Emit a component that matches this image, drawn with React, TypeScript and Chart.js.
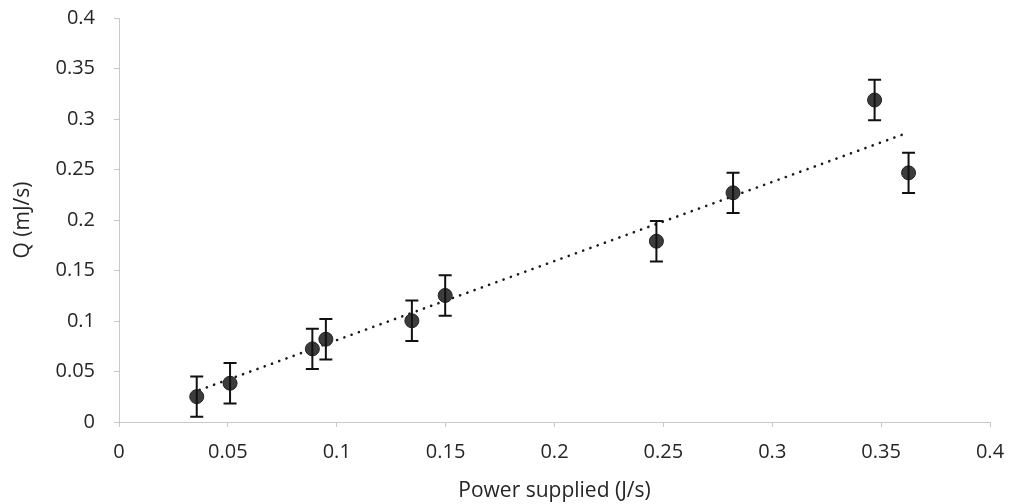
import React, { useEffect, useRef } from "react";
import { Chart, registerables } from "chart.js";

Chart.register(...registerables);

const powerX = [0.0357, 0.051, 0.0888, 0.095, 0.1345, 0.1498, 0.2468, 0.282, 0.347, 0.3626];
const qY = [0.0251, 0.0384, 0.0724, 0.082, 0.1002, 0.1253, 0.179, 0.2269, 0.3188, 0.2467];
const qErr = [0.02, 0.02, 0.02, 0.02, 0.02, 0.02, 0.02, 0.02, 0.02, 0.02];
const trendX = [0.037, 0.36];
const trendY = [0.0317, 0.2847];

const xTickLabels = ["0", "0.05", "0.1", "0.15", "0.2", "0.25", "0.3", "0.35", "0.4"];
const yTickLabels = ["0", "0.05", "0.1", "0.15", "0.2", "0.25", "0.3", "0.35", "0.4"];

const xTitle = "Power supplied (J/s)";
const yTitle = "Q (mJ/s)";

const FONT = "'Open Sans', 'Liberation Sans', sans-serif";

const errorBarPlugin = {
  id: "errorBars",
  afterDatasetsDraw(chart: any) {
    const { ctx, scales } = chart;
    const xs = scales.x;
    const ys = scales.y;
    ctx.save();
    ctx.strokeStyle = "#111";
    ctx.lineWidth = 2;
    for (let i = 0; i < powerX.length; i++) {
      const px = xs.getPixelForValue(powerX[i]);
      const top = ys.getPixelForValue(qY[i] + qErr[i]);
      const bot = ys.getPixelForValue(qY[i] - qErr[i]);
      ctx.beginPath();
      ctx.moveTo(px, top);
      ctx.lineTo(px, bot);
      ctx.moveTo(px - 6.5, top);
      ctx.lineTo(px + 6.5, top);
      ctx.moveTo(px - 6.5, bot);
      ctx.lineTo(px + 6.5, bot);
      ctx.stroke();
    }
    ctx.restore();
  },
};

export default function App() {
  const ref = useRef<HTMLCanvasElement | null>(null);
  useEffect(() => {
    document.body.style.margin = "0";
    if (!ref.current) return;
    const chart = new Chart(ref.current, {
      type: "scatter",
      data: {
        datasets: [
          {
            label: "Q",
            data: powerX.map((x, i) => ({ x, y: qY[i] })),
            backgroundColor: "#3c3c3c",
            borderColor: "#222",
            borderWidth: 1,
            pointRadius: 7,
          },
          {
            label: "trend",
            type: "line",
            data: trendX.map((x, i) => ({ x, y: trendY[i] })),
            borderColor: "#1a1a1a",
            borderWidth: 2.6,
            borderDash: [0.1, 7.6],
            borderCapStyle: "round",
            pointRadius: 0,
            fill: false,
          } as any,
        ],
      },
      options: {
        animation: false,
        responsive: false,
        events: [],
        layout: { padding: { left: 0, top: 18, right: 26, bottom: 0 } },
        plugins: { legend: { display: false }, tooltip: { enabled: false } },
        scales: {
          x: {
            type: "linear",
            min: 0,
            max: 0.4,
            ticks: {
              stepSize: 0.05,
              color: "#262626",
              font: { family: FONT, size: 20 },
              padding: 13,
              callback: (_v: any, i: number) => xTickLabels[i],
            },
            grid: { display: true, drawOnChartArea: false, drawTicks: true, tickLength: 5, color: "#c8c8c8" },
            border: { display: true, color: "#c8c8c8", width: 1 },
            title: {
              display: true,
              text: xTitle,
              color: "#262626",
              font: { family: FONT, size: 21 },
              padding: { top: 0, bottom: 0 },
            },
            afterFit(scale: any) {
              scale.height = 82;
              scale.paddingLeft = 0;
              scale.paddingRight = 0;
            },
          },
          y: {
            type: "linear",
            min: 0,
            max: 0.4,
            ticks: {
              stepSize: 0.05,
              color: "#262626",
              font: { family: FONT, size: 20 },
              padding: 19,
              callback: (_v: any, i: number) => yTickLabels[i],
            },
            grid: { display: true, drawOnChartArea: false, drawTicks: true, tickLength: 5, color: "#c8c8c8" },
            border: { display: true, color: "#c8c8c8", width: 1 },
            title: {
              display: true,
              text: yTitle,
              color: "#262626",
              font: { family: FONT, size: 21 },
              padding: { top: 10, bottom: 0 },
            },
            afterFit(scale: any) {
              scale.width = 119;
              scale.paddingTop = 0;
              scale.paddingBottom = 0;
            },
          },
        },
      },
      plugins: [errorBarPlugin],
    });
    return () => chart.destroy();
  }, []);
  return <canvas ref={ref} width={1016} height={504} style={{ display: "block" }} />;
}
